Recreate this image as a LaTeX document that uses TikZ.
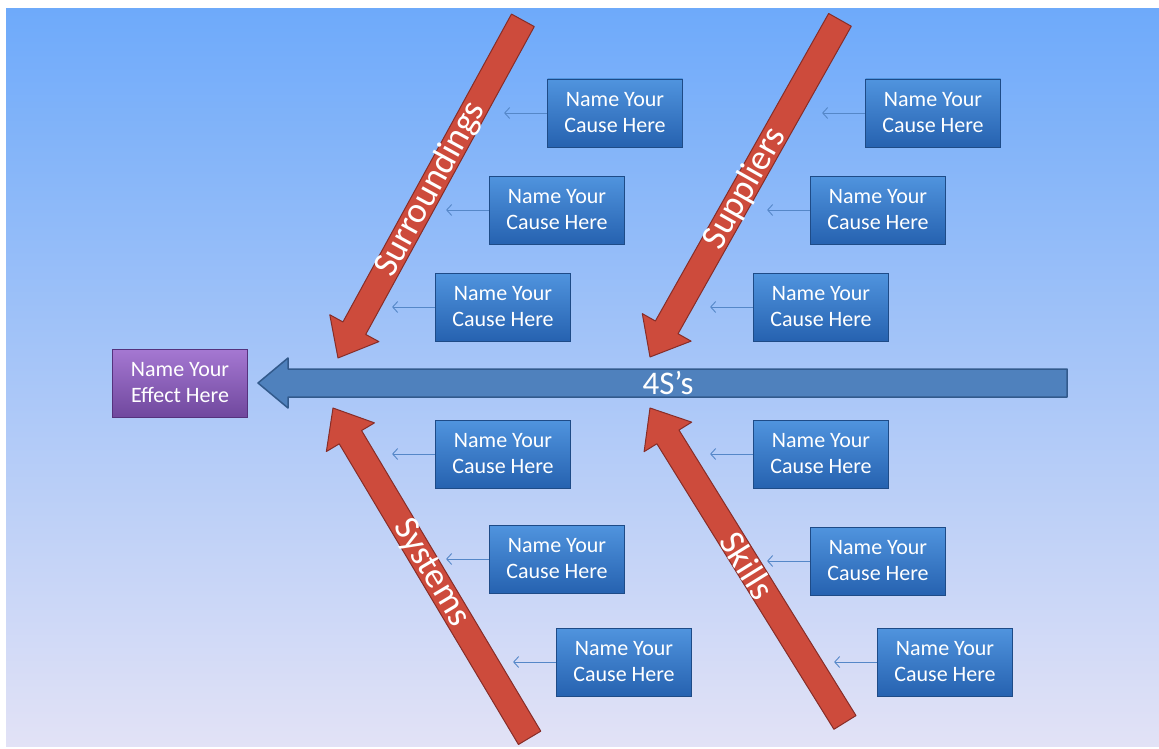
\documentclass[tikz,border=0pt]{standalone}
\usepackage{fontspec}
\setmainfont{Carlito}
\usetikzlibrary{arrows.meta,calc}
\definecolor{bgtop}{RGB}{110,170,250}
\definecolor{bgmid}{RGB}{170,205,243}
\definecolor{bgbot}{RGB}{226,226,246}
\definecolor{spine}{RGB}{79,129,189}
\definecolor{spineedge}{RGB}{50,90,140}
\definecolor{bone}{RGB}{205,75,60}
\definecolor{boneedge}{RGB}{135,45,40}
\definecolor{causetop}{RGB}{80,148,222}
\definecolor{causebot}{RGB}{38,98,176}
\definecolor{causeedge}{RGB}{30,75,135}
\definecolor{efftop}{RGB}{165,120,210}
\definecolor{effbot}{RGB}{112,72,158}
\definecolor{effedge}{RGB}{85,50,125}
\definecolor{twig}{RGB}{85,135,200}
\newcommand\bonearrow[5]{% name, tip, angle, length, label
  \begin{scope}[shift={#2}, rotate=#3]
    \fill[bone, draw=boneedge, line width=1pt, line join=round]
      (0,0) -- (34,28) -- (34,13) -- (#4,13) -- (#4,-13) -- (34,-13) -- (34,-28) -- cycle;
    \node[bonelabel, rotate=#3] (#1) at ($0.5*(#4,0)$) {#5};
  \end{scope}}
\begin{document}
\begin{tikzpicture}[x=1pt,y=-1pt,
  causebox/.style={rectangle, draw=causeedge, line width=0.8pt,
    top color=causetop, bottom color=causebot,
    minimum width=135pt, minimum height=68pt, inner sep=0pt,
    text=white, align=center, font=\fontsize{22}{26}\selectfont},
  effectbox/.style={causebox, draw=effedge, top color=efftop, bottom color=effbot},
  twigline/.style={draw=twig, line width=0.9pt, -{Straight Barb[length=5pt,width=11pt]}},
  bonelabel/.style={text=white, font=\fontsize{36}{36}\selectfont, inner sep=0pt},
  spinelabel/.style={text=white, font=\fontsize{33}{33}\selectfont, inner sep=0pt}]
\useasboundingbox (0,0) rectangle (1159,749);
\fill[white] (0,0) rectangle (1159,749);
\shade[top color=bgtop, middle color=bgmid, bottom color=bgbot] (6,9) rectangle (1159,746);

% spine
\fill[spine, draw=spineedge, line width=1.5pt, line join=round]
  (258,383) -- (288,358) -- (288,369) -- (1067,369) -- (1067,397) -- (288,397) -- (288,408) -- cycle;
\node[spinelabel] (spinetext) at (668,383) {4S’s};

% effect
\node[effectbox] (effect) at (180,383) {Name Your\\Effect Here};

% bones
\bonearrow{surr}{(338,358)}{61.3}{385}{Surroundings}
\bonearrow{supp}{(650,357)}{60.6}{387}{Suppliers}
\bonearrow{syst}{(333,408)}{-59.2}{384}{Systems}
\bonearrow{skil}{(650,408)}{-58.2}{370}{Skills}

% causes
\foreach \n/\x/\y in {c1/615/113, c2/557/210, c3/503/307,
                      c4/933/113, c5/878/210, c6/821/307,
                      c7/503/454, c8/557/559, c9/624/662,
                      c10/821/454, c11/878/561, c12/945/662}{
  \node[causebox] (\n) at (\x,\y) {Name Your\\Cause Here};
  \coordinate (\n t) at ($(\n.west)+(-43,0)$);
  \draw[twigline] (\n.west) -- (\n t);
}
\end{tikzpicture}
\end{document}
